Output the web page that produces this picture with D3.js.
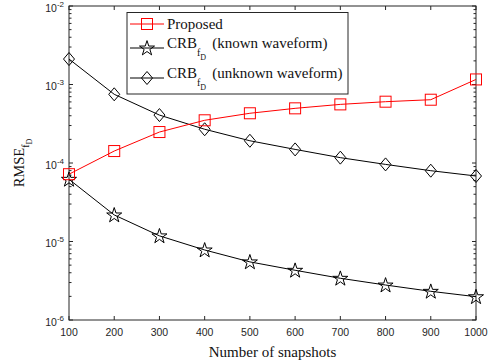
<!DOCTYPE html>
<html><head><meta charset="utf-8">
<script src="https://cdn.jsdelivr.net/npm/d3@7"></script>
<style>body{margin:0;background:#fff}svg{display:block}</style>
</head><body>
<script>
const snapshots = [100,200,300,400,500,600,700,800,900,1000];
const proposed = [7.2e-5,1.42e-4,2.48e-4,3.5e-4,4.3e-4,4.97e-4,5.58e-4,6.04e-4,6.4e-4,1.16e-3];
const crbKnown = [6.2e-5,2.18e-5,1.18e-5,7.8e-6,5.5e-6,4.3e-6,3.4e-6,2.79e-6,2.32e-6,1.98e-6];
const crbUnknown = [2.11e-3,7.5e-4,4.08e-4,2.69e-4,1.92e-4,1.49e-4,1.17e-4,9.6e-5,7.98e-5,6.83e-5];
const xTicks = [100,200,300,400,500,600,700,800,900,1000];
const yExps = [-6,-5,-4,-3,-2];

const W=496,H=362;
const m={l:69,r:20,t:6,b:42};
const svg=d3.select("body").append("svg").attr("width",W).attr("height",H);
const x=d3.scaleLinear().domain([100,1000]).range([m.l,W-m.r]);
const y=d3.scaleLog().domain([1e-6,1e-2]).range([H-m.b,m.t]);
const axCol="#262626";
const x0=m.l,x1=W-m.r,y0=H-m.b,y1=m.t;

svg.append("rect").attr("x",x0).attr("y",y1).attr("width",x1-x0).attr("height",y0-y1)
  .attr("fill","none").attr("stroke",axCol).attr("stroke-width",1);

const g=svg.append("g").attr("stroke",axCol).attr("stroke-width",1);
xTicks.forEach(t=>{
  g.append("line").attr("x1",x(t)).attr("x2",x(t)).attr("y1",y0).attr("y2",y0-4);
  g.append("line").attr("x1",x(t)).attr("x2",x(t)).attr("y1",y1).attr("y2",y1+4);
});
for(let e=-6;e<=-2;e++){
  const v=Math.pow(10,e);
  g.append("line").attr("x1",x0).attr("x2",x0+4).attr("y1",y(v)).attr("y2",y(v));
  g.append("line").attr("x1",x1).attr("x2",x1-4).attr("y1",y(v)).attr("y2",y(v));
  if(e<-2){
    for(let k=2;k<=9;k++){
      const vv=k*v;
      g.append("line").attr("x1",x0).attr("x2",x0+2.5).attr("y1",y(vv)).attr("y2",y(vv));
      g.append("line").attr("x1",x1).attr("x2",x1-2.5).attr("y1",y(vv)).attr("y2",y(vv));
    }
  }
}
const tl=svg.append("g").attr("font-family","Liberation Sans, Arial, sans-serif").attr("font-size",10.5).attr("fill",axCol);
xTicks.forEach(t=>{
  tl.append("text").attr("x",x(t)).attr("y",y0+16).attr("text-anchor","middle").text(t);
});
yExps.forEach(e=>{
  const t=tl.append("text").attr("x",x0-5).attr("y",y(Math.pow(10,e))+5.5).attr("text-anchor","end");
  t.append("tspan").text("10");
  t.append("tspan").attr("dy",-5).attr("font-size",8).text(e);
});

svg.append("text").attr("x",(x0+x1)/2).attr("y",H-5).attr("text-anchor","middle")
  .attr("font-family","Liberation Serif, Times New Roman, serif").attr("font-size",15).attr("fill","#111")
  .text("Number of snapshots");
const yl=svg.append("text").attr("transform",`translate(24,${(y0+y1)/2}) rotate(-90)`).attr("text-anchor","middle")
  .attr("font-family","Liberation Serif, Times New Roman, serif").attr("font-size",14.5).attr("fill","#111");
yl.append("tspan").text("RMSE");
yl.append("tspan").attr("dy",5).attr("font-size",10).text("f");
yl.append("tspan").attr("dy",3).attr("font-size",8).text("D");

const star=d3.symbol().type(d3.symbolStar).size(70);
function drawMarker(sel,type,cx,cy,col){
  if(type==="square"){
    sel.append("rect").attr("x",cx-5.5).attr("y",cy-5.5).attr("width",11).attr("height",11)
      .attr("fill","none").attr("stroke",col).attr("stroke-width",1);
  } else if(type==="diamond"){
    sel.append("path").attr("d",`M${cx},${cy-6.5}L${cx+5.5},${cy}L${cx},${cy+6.5}L${cx-5.5},${cy}Z`)
      .attr("fill","none").attr("stroke",col).attr("stroke-width",1);
  } else {
    sel.append("path").attr("d",star()).attr("transform",`translate(${cx},${cy+0.5})`)
      .attr("fill","none").attr("stroke",col).attr("stroke-width",1);
  }
}
const line=d3.line().x((d,i)=>x(snapshots[i])).y(d=>y(d));
const series=[
  {data:crbUnknown,col:"#000",type:"diamond"},
  {data:crbKnown,col:"#000",type:"star"},
  {data:proposed,col:"#ff0000",type:"square"}
];
series.forEach(s=>{
  svg.append("path").attr("d",line(s.data)).attr("fill","none").attr("stroke",s.col).attr("stroke-width",1);
  const mg=svg.append("g");
  s.data.forEach((d,i)=>drawMarker(mg,s.type,x(snapshots[i]),y(d),s.col));
});

const lg=svg.append("g");
lg.append("rect").attr("x",127).attr("y",12.5).attr("width",221).attr("height",81.5)
  .attr("fill","#fff").attr("stroke",axCol).attr("stroke-width",1);
const entries=[
  {label:"Proposed",col:"#ff0000",type:"square",cy:24,sub:null},
  {label:"CRB",col:"#000",type:"star",cy:48,sub:"(known waveform)"},
  {label:"CRB",col:"#000",type:"diamond",cy:78,sub:"(unknown waveform)"}
];
entries.forEach(e=>{
  lg.append("line").attr("x1",130).attr("x2",164).attr("y1",e.cy).attr("y2",e.cy).attr("stroke",e.col).attr("stroke-width",1);
  drawMarker(lg,e.type,147,e.cy,e.col);
  const ty = e.sub? e.cy : e.cy+4.5;
  const t=lg.append("text").attr("x",167).attr("y",ty)
    .attr("font-family","Liberation Serif, Times New Roman, serif").attr("font-size",15).attr("fill","#111");
  t.append("tspan").text(e.label);
  if(e.sub){
    t.append("tspan").attr("dy",8).attr("font-size",10).text("f");
    t.append("tspan").attr("dy",4).attr("font-size",8).text("D");
    t.append("tspan").attr("dy",-12).attr("dx",6).text(e.sub);
  }
});
</script>
</body></html>
